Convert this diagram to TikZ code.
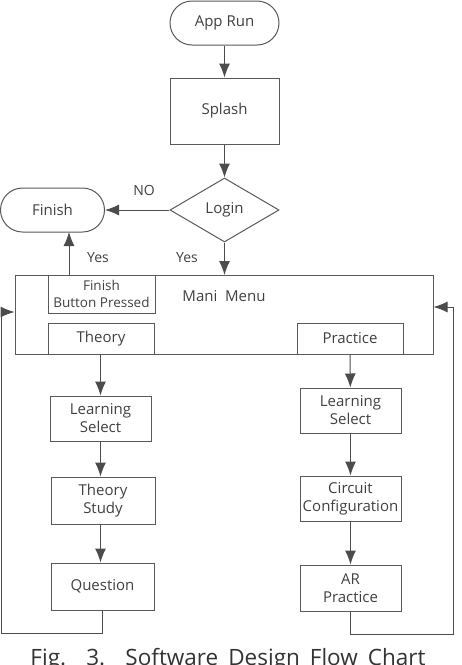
\documentclass[tikz,border=0pt]{standalone}
\usepackage{fontspec}
\setmainfont{Open Sans}
\usetikzlibrary{shapes.geometric,arrows.meta,calc}

\tikzset{
  flow/.style={draw=black!65,line width=1pt,text=black!75,inner sep=1pt,align=center,
    font=\fontsize{15}{18}\selectfont},
  term/.style={flow,rectangle,rounded corners=22pt,minimum width=109pt,minimum height=44pt},
  proc/.style={flow,rectangle,minimum width=#1},
  proc/.default=101pt,
  dec/.style={flow,diamond,aspect=1.7,minimum width=109pt,minimum height=64pt,inner sep=0pt},
  link/.style={draw=black!70,line width=1pt,-{Latex[length=14pt,width=11pt]}},
  lab/.style={text=black!75,font=\fontsize{14}{16}\selectfont}
}

\begin{document}
\begin{tikzpicture}[x=1pt,y=-1pt]
\useasboundingbox (0,0) rectangle (462,665);

\begin{scope}
\node[term] (apprun) at (224.5,23) {App Run};
\node[proc=109pt,minimum height=66pt] (splash) at (224.5,111) {Splash};
\node[dec] (login) at (224.5,210) {Login};
\node[term,minimum width=104pt] (finish) at (52.5,210) {Finish};
\draw[link] (apprun) -- (splash);
\draw[link] (splash) -- (login);
\draw[link] (login) -- (finish);
\node[lab] (no) at (144,190) {NO};
\end{scope}

\begin{scope}
\node[flow,minimum width=418pt,minimum height=79pt] (mainmenu) at (224,314.5) {};
\node[lab,font=\fontsize{15}{18}\selectfont] (mmlabel) at (224,296) {Mani~~Menu};
\node[flow,minimum width=107pt,minimum height=38pt,font=\fontsize{13.5}{16.5}\selectfont]
  (fbp) at (101.5,294) {Finish\\Button Pressed};
\node[flow,minimum width=106pt,minimum height=31pt] (theory) at (101,338.5) {Theory};
\node[flow,minimum width=106pt,minimum height=31pt] (practice) at (350,338.5) {Practice};
\coordinate (loginyes) at (224.5,275);
\coordinate (fbptop) at (69,275);
\coordinate (finishbot) at (69,232);
\draw[link] (login) -- (loginyes);
\draw[link] (fbptop) -- (finishbot);
\node[lab] (yes1) at (98,258) {Yes};
\node[lab] (yes2) at (187,258) {Yes};
\end{scope}

\begin{scope}
\node[proc,minimum height=45pt] (lsel1) at (100.5,418.5) {Learning\\Select};
\node[proc=104pt,minimum height=47pt] (study) at (103,500.5) {Theory\\Study};
\node[proc=103pt,minimum height=47pt] (question) at (102.5,586.5) {Question};
\draw[link] (theory.south -| lsel1.north) -- (lsel1.north);
\draw[link] (lsel1.south) -- (lsel1.south |- study.north);
\draw[link] (lsel1.south |- study.south) -- (lsel1.south |- question.north);
\end{scope}

\begin{scope}
\node[proc,minimum height=45pt] (lsel2) at (350.5,410.5) {Learning\\Select};
\node[proc,minimum height=45pt] (circuit) at (350.5,498.5) {Circuit\\Configuration};
\node[proc,minimum height=46pt] (arprac) at (350.5,588) {AR\\Practice};
\draw[link] (practice) -- (lsel2);
\draw[link] (lsel2) -- (circuit);
\draw[link] (circuit) -- (arprac);
\end{scope}

\coordinate (lret) at (1,633);
\coordinate (rret) at (453,634);
\draw[link] (question.south) |- (lret) |- ([yshift=2.5pt]mainmenu.west);
\draw[link] (arprac.south) |- (rret) |- ([yshift=7.5pt]mainmenu.east);

\node[anchor=base,text=black!80,font=\fontsize{22.5}{26}\selectfont] (caption) at (228,665)
  {\makebox[395pt][s]{Fig. 3. Software Design Flow Chart}};
\end{tikzpicture}
\end{document}
